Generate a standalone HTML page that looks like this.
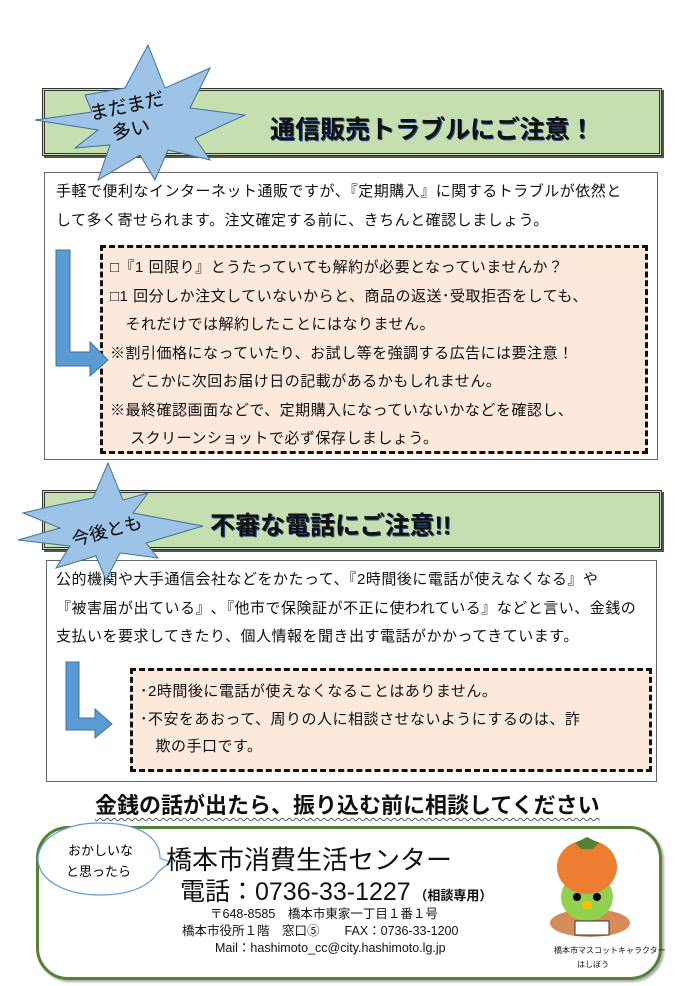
<!DOCTYPE html>
<html><head><meta charset="utf-8"><style>
body{margin:0;width:690px;height:986px;background:#fff;position:relative;overflow:hidden;font-family:"Liberation Sans","Noto Sans CJK JP",sans-serif;color:#111}
.a{position:absolute;white-space:nowrap}
.hdr{position:absolute;background:#c6dfb1;border:3px double #333;box-shadow:2px 2px 0 #555}
.box{position:absolute;border:1.5px solid #666;background:#fff}
.dash{position:absolute;background:#fde9dc;border:3px dashed #111}
.t{font-size:15px;line-height:28.5px;letter-spacing:0.5px}
.ttl{font-weight:bold;font-size:25px;text-shadow:1px 1px 0 #2b4d8a}
</style></head><body>
<div class="hdr" style="left:42px;top:88px;width:614px;height:62px"></div>
<div class="a ttl" style="left:270px;top:110px">通信販売トラブルにご注意！</div>
<div class="box" style="left:44px;top:172px;width:612px;height:286px"></div>
<div class="a t" style="left:56px;top:178px">手軽で便利なインターネット通販ですが、『定期購入』に関するトラブルが依然と<br>して多く寄せられます。注文確定する前に、きちんと確認しましょう。</div>
<div class="dash" style="left:100px;top:245px;width:542px;height:203px"></div>
<div class="a t" style="left:110px;top:254px">□『1 回限り』とうたっていても解約が必要となっていませんか？<br>□1 回分しか注文していないからと、商品の返送･受取拒否をしても、<br>　それだけでは解約したことにはなりません。<br>※割引価格になっていたり、お試し等を強調する広告には要注意！<br>　 どこかに次回お届け日の記載があるかもしれません。<br>※最終確認画面などで、定期購入になっていないかなどを確認し、<br>　 スクリーンショットで必ず保存しましょう。</div>
<svg class="a" style="left:50px;top:248px" width="60" height="130"><path d="M6 2H20V104H40V94L58 112L40 128V118H6Z" fill="#5b9bd5" stroke="#41719c"/></svg>
<svg class="a" style="left:30px;top:40px" width="220" height="145"><polygon points="55,55 95,48 118,5 135,48 180,28 160,68 215,75 165,98 180,120 138,110 125,140 110,115 68,140 80,105 45,108 68,90 5,80 62,72" fill="#9dc3e6" stroke="#41719c"/><text x="62" y="72" font-size="19" transform="rotate(-12 100 80)" font-family="Liberation Sans,Noto Sans CJK JP,sans-serif">まだまだ</text><text x="80" y="96" font-size="19" transform="rotate(-12 100 80)" font-family="Liberation Sans,Noto Sans CJK JP,sans-serif">多い</text></svg>

<div class="hdr" style="left:42px;top:490px;width:614px;height:54px"></div>
<div class="a ttl" style="left:210px;top:506px">不審な電話にご注意!!</div>
<div class="box" style="left:46px;top:560px;width:609px;height:220px"></div>
<div class="a t" style="left:56px;top:566px">公的機関や大手通信会社などをかたって、『2時間後に電話が使えなくなる』や<br>『被害届が出ている』､『他市で保険証が不正に使われている』などと言い、金銭の<br>支払いを要求してきたり、個人情報を聞き出す電話がかかってきています。</div>
<div class="dash" style="left:130px;top:668px;width:516px;height:98px"></div>
<div class="a t" style="left:140px;top:678px;line-height:27.5px">･2時間後に電話が使えなくなることはありません。<br>･不安をあおって、周りの人に相談させないようにするのは、詐<br>　欺の手口です。</div>
<svg class="a" style="left:62px;top:660px" width="55" height="80"><path d="M4 2H17V58H33V49L50 64L33 78V70H4Z" fill="#5b9bd5" stroke="#41719c"/></svg>
<svg class="a" style="left:8px;top:458px" width="200" height="125"><polygon points="45,48 85,40 100,5 115,42 140,35 125,55 195,68 138,85 150,100 112,95 98,122 88,98 48,110 62,88 10,82 52,70 15,55" fill="#9dc3e6" stroke="#41719c"/><text x="62" y="80" font-size="18" transform="rotate(-15 95 70)" font-family="Liberation Sans,Noto Sans CJK JP,sans-serif">今後とも</text></svg>

<div class="a" style="left:95px;top:788px;font-size:22px;font-weight:bold;text-decoration:underline wavy #555 1px;text-underline-offset:4px">金銭の話が出たら、振り込む前に相談してください</div>
<div style="position:absolute;left:36px;top:826px;width:620px;height:148px;border:3px solid #548235;border-radius:32px;box-shadow:2px 2px 2px #aaa"></div>
<svg class="a" style="left:30px;top:820px" width="145" height="85"><path d="M70 3C110 3 130 18 130 38L140 42L128 52C120 66 100 75 70 75C35 75 8 60 8 39C8 18 35 3 70 3Z" fill="#fff" stroke="#5b9bd5" stroke-width="1.2"/><text x="38" y="35" font-size="13" font-family="Liberation Sans,Noto Sans CJK JP,sans-serif">おかしいな</text><text x="36" y="56" font-size="13" font-family="Liberation Sans,Noto Sans CJK JP,sans-serif">と思ったら</text></svg>
<div class="a" style="left:166px;top:840px;font-size:26px">橋本市消費生活センター</div>
<div class="a" style="left:180px;top:872px;font-size:25px">電話：0736-33-1227<span style="font-size:13px;font-weight:bold"> （相談専用）</span></div>
<div class="a" style="left:210px;top:903px;font-size:12.5px">〒648-8585　橋本市東家一丁目１番１号</div>
<div class="a" style="left:182px;top:920px;font-size:12.5px">橋本市役所１階　窓口⑤　　FAX：0736-33-1200</div>
<div class="a" style="left:215px;top:937px;font-size:12.5px">Mail：hashimoto_cc@city.hashimoto.lg.jp</div>
<svg class="a" style="left:545px;top:835px" width="95" height="115"><ellipse cx="45" cy="88" rx="40" ry="14" fill="#c55a11" opacity=".7"/><ellipse cx="42" cy="62" rx="26" ry="24" fill="#92d050"/><ellipse cx="42" cy="32" rx="30" ry="27" fill="#ed7d31"/><path d="M30 8L42 2L54 8L48 14H36Z" fill="#548235"/><circle cx="32" cy="62" r="4"/><circle cx="52" cy="62" r="4"/><ellipse cx="42" cy="70" rx="5" ry="4" fill="#ffc000"/><rect x="30" y="86" width="34" height="14" fill="#fff" stroke="#333"/></svg>
<div class="a" style="left:554px;top:945px;font-size:8px">橋本市マスコットキャラクター</div>
<div class="a" style="left:577px;top:959px;font-size:8px">はしぼう</div>
</body></html>
